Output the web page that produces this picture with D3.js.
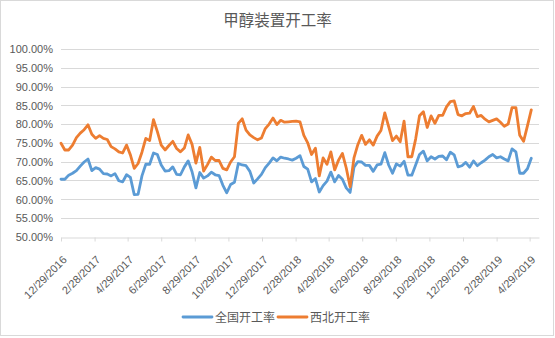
<!DOCTYPE html>
<html><head><meta charset="utf-8">
<script src="https://cdn.jsdelivr.net/npm/d3@7"></script>
<style>html,body{margin:0;padding:0;background:#fff;}svg{display:block;}</style>
</head><body>
<svg id="c" width="555" height="338"></svg>
<script>
const title = "甲醇装置开工率";
const seriesNames = ["全国开工率", "西北开工率"];
const seriesColors = ["#5B9BD5", "#ED7D31"];
const startDate = "12/29/2016"; // weekly observations
const tickLabels = ["12/29/2016","2/28/2017","4/29/2017","6/29/2017","8/29/2017","10/29/2017","12/29/2017","2/28/2018","4/29/2018","6/29/2018","8/29/2018","10/29/2018","12/29/2018","2/28/2019","4/29/2019"];
const yTicks = [50,55,60,65,70,75,80,85,90,95,100];

const national = [65.3,65.3,66.4,66.9,67.6,68.8,69.9,70.7,67.6,68.4,68.0,66.8,66.7,66.2,66.8,64.9,64.6,66.5,65.8,61.2,
61.3,66.2,69.3,69.3,72.3,71.9,69.1,67.5,67.6,68.6,66.6,66.5,68.6,70.2,67.3,63.0,67.1,65.6,66.2,67.2,
66.5,66.3,63.7,61.7,63.9,64.5,69.5,69.1,68.9,67.4,64.3,65.4,66.6,68.4,69.6,71.0,70.2,71.2,70.9,70.7,
70.4,70.9,71.6,68.7,68.0,64.6,65.5,61.9,63.6,64.8,67.2,64.6,66.3,65.3,63.0,61.8,68.5,70.0,69.9,69.0,
69.0,67.4,69.1,69.3,72.4,69.1,66.9,69.4,68.8,70.1,66.4,66.4,69.1,71.9,72.8,70.2,71.3,70.7,71.4,71.5,
70.5,72.5,71.8,68.6,68.9,69.8,68.5,70.2,68.9,69.7,70.4,71.3,71.9,71.0,71.3,70.7,70.2,73.4,72.6,66.9,
66.9,68.1,70.9];
const northwest = [74.9,73.1,73.1,74.4,76.4,77.6,78.5,79.8,77.3,76.2,76.9,76.2,75.9,74.0,73.4,72.6,72.3,74.4,71.8,68.2,
69.5,72.5,76.2,75.6,81.2,78.0,74.4,73.1,74.3,75.4,73.5,72.6,73.6,77.1,74.6,69.6,73.8,67.5,69.2,71.2,
70.3,70.3,68.2,67.8,69.9,71.3,80.2,81.4,78.4,77.1,76.4,75.8,76.3,78.8,80.0,81.6,79.9,81.0,80.5,80.6,
80.7,80.8,80.6,77.0,75.0,71.9,73.6,66.2,71.0,69.3,72.6,67.8,70.4,72.2,68.3,63.3,71.0,74.5,77.0,74.6,
75.8,74.4,76.8,78.3,83.0,79.3,75.6,76.8,75.3,80.8,71.3,71.3,76.0,82.2,83.3,79.1,82.2,80.2,82.3,82.3,
84.6,86.0,86.2,82.5,82.2,82.8,82.9,84.7,82.0,82.3,81.3,80.6,81.0,81.4,80.5,79.4,80.0,84.4,84.4,77.0,
75.4,79.5,83.8];

const parse = d3.utcParse("%m/%d/%Y");
const t0 = parse(startDate);
const dates = national.map((_, i) => d3.utcDay.offset(t0, 7 * i));
const tickDates = tickLabels.map(parse);

const svg = d3.select("#c");
const W = 555, H = 338;
svg.append("rect").attr("x",0.5).attr("y",0.5).attr("width",W-2).attr("height",H-3)
  .attr("fill","#fff").attr("stroke","#d9d9d9").attr("stroke-width",1);

const x = d3.scaleUtc().domain([t0, parse("5/16/2019")]).range([61, 539]);
const y = d3.scaleLinear().domain([50, 100]).range([236.7, 49]);

// title
svg.append("text").attr("x", 277.5).attr("y", 26).attr("text-anchor","middle")
  .attr("font-family","'Noto Sans CJK SC', sans-serif").attr("font-size",15.5)
  .attr("fill","#595959").text(title);

// grid
const grid = svg.append("g");
grid.selectAll("line").data(yTicks.filter(v => v > 50)).join("line")
  .attr("x1", 61).attr("x2", 539)
  .attr("y1", d => Math.round(y(d)) + 0.5).attr("y2", d => Math.round(y(d)) + 0.5)
  .attr("stroke","#d9d9d9").attr("stroke-width",1);

// y axis labels
const yAxis = d3.axisLeft(y).tickValues(yTicks).tickSize(0).tickPadding(0)
  .tickFormat(d => d3.format(".2f")(d) + "%");
const yg = svg.append("g").attr("transform","translate(53,0)").call(yAxis);
yg.select(".domain").remove();
yg.selectAll("text").attr("font-family","'Liberation Sans', Arial, sans-serif")
  .attr("font-size",11).attr("fill","#595959").attr("dy","0.35em");

// x axis
const xAxis = d3.axisBottom(x).tickValues(tickDates).tickSize(4).tickSizeOuter(0)
  .tickFormat((d, i) => tickLabels[i]);
const xg = svg.append("g").attr("transform", `translate(0,${Math.round(y(50)) + 0.5})`).call(xAxis);
xg.select(".domain").attr("stroke","#d9d9d9");
xg.selectAll(".tick line").attr("stroke","#d9d9d9");
xg.selectAll("text")
  .attr("font-family","'Liberation Sans', Arial, sans-serif").attr("font-size",11)
  .attr("fill","#595959")
  .attr("text-anchor","end")
  .attr("transform","translate(6,23) rotate(-45)")
  .attr("x",0).attr("y",0).attr("dy",0);

// lines
const allSeries = [national, northwest];
const line = d3.line().x((d, i) => x(dates[i])).y(d => y(d));
svg.append("g").selectAll("path").data(allSeries).join("path")
  .attr("d", d => line(d)).attr("fill","none")
  .attr("stroke", (d, i) => seriesColors[i]).attr("stroke-width",2.8)
  .attr("stroke-linejoin","round").attr("stroke-linecap","round");

// legend
const lg = svg.append("g");
const legendX = [183, 278];
seriesNames.forEach((name, i) => {
  lg.append("line").attr("x1", legendX[i]).attr("x2", legendX[i] + 29)
    .attr("y1", 317).attr("y2", 317).attr("stroke", seriesColors[i]).attr("stroke-width",2.8)
    .attr("stroke-linecap","round");
  lg.append("text").attr("x", legendX[i] + 32).attr("y", 321.5)
    .attr("font-family","'Noto Sans CJK SC', sans-serif").attr("font-size",12)
    .attr("fill","#595959").text(name);
});
</script>
</body></html>
